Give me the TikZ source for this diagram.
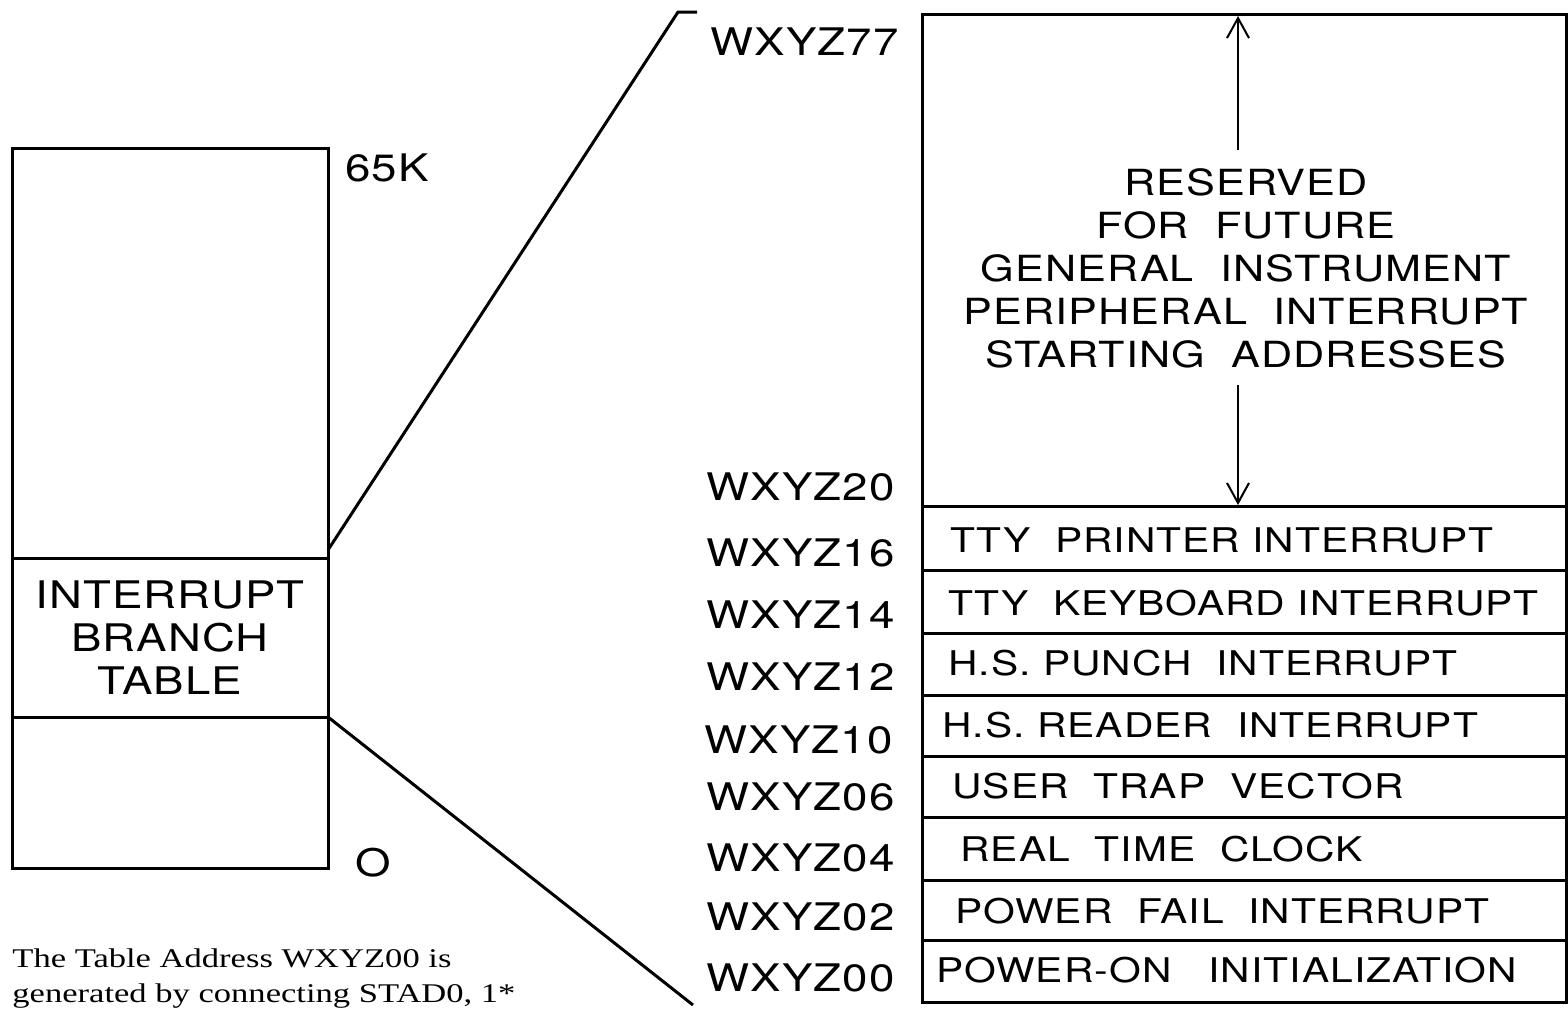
\documentclass[tikz,border=0pt]{standalone}
\usepackage{fontspec}
\setmainfont{Liberation Serif}
\newfontfamily\handfont[FakeStretch=1.2,LetterSpace=3]{TeX Gyre Heros}
\newfontfamily\notefont[FakeStretch=1.28]{Liberation Serif}
\usetikzlibrary{arrows.meta}
\tikzset{
  memline/.style={line width=1.5pt},
  addr/.style={anchor=west,inner sep=0pt,font=\handfont\fontsize{19}{19}\selectfont},
  slot/.style={anchor=west,inner sep=0pt,font=\handfont\fontsize{17}{17}\selectfont},
  resv/.style={align=center,inner sep=0pt,font=\handfont\fontsize{18}{21.5}\selectfont},
  barb/.style={line width=1pt,-{Straight Barb[length=10pt,width=11pt]}}
}
\begin{document}
\begin{tikzpicture}[x=0.5pt,y=-0.5pt]
\useasboundingbox (0,0) rectangle (1568,1009);

    % left memory block
    \coordinate (LT) at (12,148) ;
    \coordinate (LB) at (328,868) ;
    \coordinate (Ltab) at (328,550) ;
    \coordinate (Lbot) at (328,717) ;
    \draw[memline] (LT) rectangle (LB);
    \draw[memline] (12,558) -- (328,558);
    \draw[memline] (12,717) -- (Lbot);
    \node[resv,font=\handfont\fontsize{19}{21.5}\selectfont] (ibt) at (170,638) {INTERRUPT\\BRANCH\\TABLE};
    \node[addr] (top65) at (345,168) {65K};
    \node[addr] (zero) at (355,863) {O};

    % fan out to the table
    \coordinate (FT) at (678,12) ;
    \coordinate (FT2) at (697,12) ;
    \coordinate (FB) at (693,1005) ;
    \draw[memline] (Ltab) -- (FT) -- (FT2);
    \draw[memline] (Lbot) -- (FB);

    % right table
    \coordinate (RT) at (922,14) ;
    \coordinate (RB) at (1566,1002) ;
    \draw[memline] (RT) rectangle (RB);
    \foreach \y in {506,570,633,695,756,817,880,940}
      \draw[memline] (922,\y) -- (1566,\y);

    \node[resv] (res) at (1246,268) {RESERVED\\FOR\ \ FUTURE\\GENERAL\ \ INSTRUMENT\\PERIPHERAL\ \ INTERRUPT\\STARTING\ \ ADDRESSES};
    \coordinate (arrtop) at (1238,16) ;
    \coordinate (arrbot) at (1238,505) ;
    \draw[barb] (1238,150) -- (arrtop);
    \draw[barb] (1238,385) -- (arrbot);

    \foreach \x/\y/\txt/\nm in {950/540/TTY\ \ PRINTER\ INTERRUPT/ttyp,
        948/603/TTY\ \ KEYBOARD INTERRUPT/ttyk,
        948/663/H.S.\ PUNCH\ \ INTERRUPT/hsp,
        942/725/H.S.\ READER\ \ INTERRUPT/hsr,
        952/786/USER\ \ TRAP\ \ VECTOR/utv,
        960/849/REAL\ \ TIME\ \ CLOCK/rtc,
        955/911/POWER\ \ FAIL\ \ INTERRUPT/pfi,
        936/970/POWER-ON\ \ \ INITIALIZATION/poi}
      \node[slot] (\nm) at (\x,\y) {\txt};

    % addresses
    \foreach \x/\y/\txt in {710/42/77,706/487/20,706/553/16,706/615/14,706/677/12,
        704/740/10,706/797/06,706/858/04,706/917/02,706/978/00}
      \node[addr] (a\txt) at (\x,\y) {WXYZ\txt};

    % note
    \node[anchor=base west,inner sep=0pt,font=\notefont\fontsize{13.5}{13.5}\selectfont] (note1) at (12,967) {The Table Address WXYZ00 is};
    \node[anchor=base west,inner sep=0pt,font=\notefont\fontsize{13.5}{13.5}\selectfont] (note2) at (12,1002) {generated by connecting STAD0, 1*};

\end{tikzpicture}
\end{document}
